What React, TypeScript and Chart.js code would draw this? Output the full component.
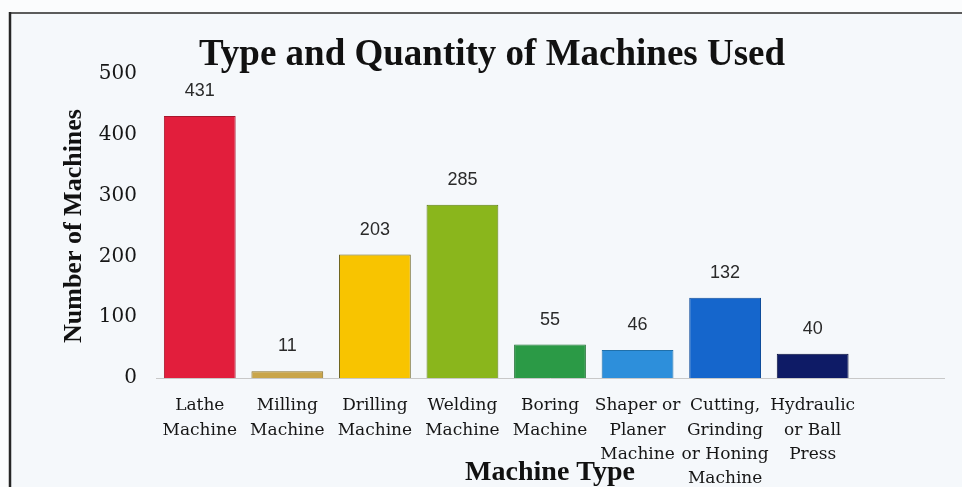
import { useEffect, useRef } from "react";
import { Chart, registerables } from "chart.js";

Chart.register(...registerables);

// Machine categories (multi-line tick labels); the last slot is an empty category.
const machineTypes: (string | string[])[] = [
  ["Lathe", "Machine"],
  ["Milling", "Machine"],
  ["Drilling", "Machine"],
  ["Welding", "Machine"],
  ["Boring", "Machine"],
  ["Shaper or", "Planer", "Machine"],
  ["Cutting,", "Grinding", "or Honing", "Machine"],
  ["Hydraulic", "or Ball", "Press"],
  "",
];

// Number of machines of each type.
const machineCounts: (number | null)[] = [431, 11, 203, 285, 55, 46, 132, 40, null];

const barColors = [
  "#e21e3c",
  "#c9a54a",
  "#f8c400",
  "#8ab61c",
  "#2b9a46",
  "#2d8fdb",
  "#1566cc",
  "#0e1b66",
  "#cccccc",
];

const barEdges = [
  "#a8162c",
  "#8a7026",
  "#6e6420",
  "#5d7e12",
  "#1f7033",
  "#2070aa",
  "#0f4c9a",
  "#08103f",
  "#999999",
];

const yTickValues = [0, 100, 200, 300, 400, 500];

const chartTitle = "Type and Quantity of Machines Used";
const xTitle = "Machine Type";
const yTitle = "Number of Machines";

const WIDTH = 962;
const HEIGHT = 487;

// Paper background with the dark frame lines along the top and left edges.
const framePlugin = {
  id: "frame",
  beforeDraw(chart: Chart) {
    const { ctx, width, height } = chart;
    ctx.save();
    ctx.fillStyle = "#fbfcfd";
    ctx.fillRect(0, 0, width, height);
    ctx.fillStyle = "#f5f8fb";
    ctx.fillRect(10, 13, width - 10, height - 13);
    ctx.strokeStyle = "#5c5c5c";
    ctx.lineWidth = 2;
    ctx.beginPath();
    ctx.moveTo(9, 13);
    ctx.lineTo(width, 13);
    ctx.stroke();
    ctx.strokeStyle = "#262626";
    ctx.lineWidth = 2.5;
    ctx.beginPath();
    ctx.moveTo(10, 12);
    ctx.lineTo(10, height);
    ctx.stroke();
    ctx.restore();
  },
};

// Value printed above each bar.
const valueLabelPlugin = {
  id: "valueLabels",
  afterDatasetsDraw(chart: Chart) {
    const { ctx } = chart;
    const meta = chart.getDatasetMeta(0);
    const data = chart.data.datasets[0].data as (number | null)[];
    ctx.save();
    ctx.font = '18px "Liberation Sans", Arial, sans-serif';
    ctx.fillStyle = "#2a2a2a";
    ctx.textAlign = "center";
    ctx.textBaseline = "middle";
    meta.data.forEach((bar: any, i: number) => {
      const v = data[i];
      if (v == null) return;
      ctx.fillText(String(v), bar.x, bar.y - 25);
    });
    ctx.restore();
  },
};

export default function App() {
  const canvasRef = useRef<HTMLCanvasElement | null>(null);

  useEffect(() => {
    const canvas = canvasRef.current;
    if (!canvas) return;
    const chart = new Chart(canvas, {
      type: "bar",
      data: {
        labels: machineTypes,
        datasets: [
          {
            data: machineCounts,
            backgroundColor: barColors,
            borderColor: barEdges,
            borderWidth: 1,
            barPercentage: 0.82,
            categoryPercentage: 1,
          },
        ],
      },
      options: {
        responsive: false,
        animation: false,
        events: [],
        layout: { padding: { left: 40, right: 18, top: 0, bottom: 0 } },
        plugins: {
          legend: { display: false },
          tooltip: { enabled: false },
          title: {
            display: true,
            text: chartTitle,
            color: "#111111",
            font: { family: '"Liberation Serif", "Times New Roman", serif', size: 37, weight: "bold", lineHeight: 1 },
            padding: { top: 37, bottom: 0 },
          },
        },
        scales: {
          x: {
            grid: { display: false, drawTicks: false },
            border: { display: true, color: "#c8c8c8", width: 1 },
            ticks: {
              color: "#161616",
              padding: 16,
              autoSkip: false,
              maxRotation: 0,
              font: { family: '"DejaVu Serif", serif', size: 17, lineHeight: 1.42 },
            },
            title: {
              display: true,
              text: xTitle,
              color: "#111111",
              font: { family: '"Liberation Serif", "Times New Roman", serif', size: 28, weight: "bold", lineHeight: 1 },
              padding: { top: 0, bottom: 0 },
            },
            afterFit(scale: any) {
              scale.height = 109;
            },
          },
          y: {
            min: 0,
            max: 500,
            grid: { display: false, drawTicks: false },
            border: { display: false },
            afterBuildTicks(scale: any) {
              scale.ticks = yTickValues.map((v) => ({ value: v }));
            },
            ticks: {
              color: "#161616",
              padding: 19,
              font: { family: '"DejaVu Serif", serif', size: 20 },
            },
            title: {
              display: true,
              text: yTitle,
              color: "#111111",
              font: { family: '"Liberation Serif", "Times New Roman", serif', size: 26, weight: "bold", lineHeight: 1.2 },
              padding: { top: 19, bottom: 0 },
            },
            afterFit(scale: any) {
              scale.width = 116;
            },
          },
        },
      },
      plugins: [framePlugin, valueLabelPlugin],
    });
    return () => chart.destroy();
  }, []);

  return (
    <div style={{ position: "fixed", left: 0, top: 0, width: WIDTH, height: HEIGHT }}>
      <canvas ref={canvasRef} width={WIDTH} height={HEIGHT} />
    </div>
  );
}
